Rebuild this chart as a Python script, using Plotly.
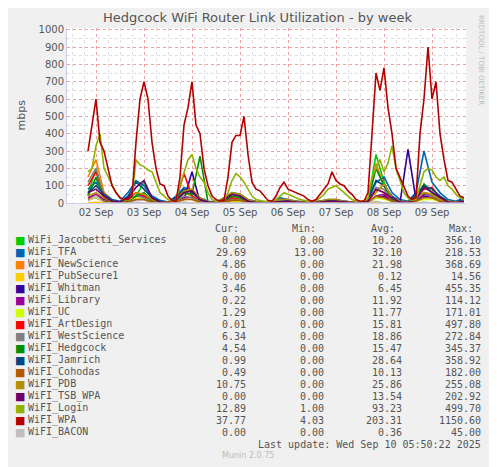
import pandas as pd
import plotly.graph_objects as go

# 2-hour samples from Sep 1 20:00
wpa = [300, 450, 600, 350, 300, 200, 100, 60, 30, 20, 20, 40, 350, 600, 700, 600, 350, 200, 110, 100,
       40, 15, 10, 150, 450, 550, 700, 450, 400, 200, 100, 40, 20, 10, 15, 150, 350, 390, 390, 500,
       280, 120, 80, 70, 40, 15, 10, 40, 90, 120, 80, 70, 60, 50, 40, 20, 10, 20, 50, 80,
       110, 180, 130, 110, 100, 70, 50, 20, 10, 10, 60, 400, 750, 650, 780, 550, 400, 200, 150, 100,
       40, 20, 30, 400, 600, 900, 600, 700, 400, 250, 130, 120, 80, 40, 30]
login = [180, 200, 330, 400, 200, 150, 100, 60, 30, 20, 15, 30, 250, 220, 210, 190, 180, 120, 60, 40,
         20, 10, 15, 100, 170, 250, 280, 200, 150, 120, 60, 20, 10, 10, 15, 60, 130, 170, 150, 120,
         80, 40, 20, 15, 10, 10, 10, 20, 40, 60, 50, 40, 30, 20, 15, 10, 10, 15, 30, 50,
         80, 90, 100, 80, 60, 40, 20, 10, 10, 10, 30, 150, 200, 250, 180, 230, 330, 200, 130, 60,
         30, 15, 20, 100, 180, 200, 190, 150, 130, 150, 100, 80, 50, 30, 20]

# 4-hour samples from Sep 1 20:00
tfa = [80, 120, 60, 20, 10, 60, 130, 100, 40, 15, 5, 40, 90, 70, 30, 10, 5, 30, 60, 50, 20, 10, 5, 10,
       30, 20, 10, 5, 5, 10, 20, 20, 10, 5, 5, 20, 120, 150, 60, 20, 10, 60, 300, 120, 60, 20, 10, 30]
jamrich = [60, 100, 50, 15, 5, 40, 120, 80, 30, 10, 5, 30, 80, 60, 20, 5, 5, 20, 50, 40, 15, 5, 5, 10,
           20, 15, 10, 5, 5, 10, 15, 15, 10, 5, 5, 20, 130, 100, 40, 10, 5, 50, 100, 80, 40, 10, 5, 20]
artdesign = [100, 180, 40, 10, 5, 20, 60, 40, 10, 5, 2, 20, 170, 40, 10, 5, 2, 10, 30, 20, 5, 2, 1, 2,
             5, 5, 2, 1, 1, 2, 5, 5, 2, 1, 1, 10, 80, 60, 20, 5, 2, 40, 80, 90, 30, 5, 2, 10]
newscience = [150, 250, 60, 10, 5, 20, 60, 40, 10, 5, 2, 20, 60, 40, 10, 5, 2, 10, 40, 30, 10, 5, 2, 5,
              10, 10, 5, 2, 2, 5, 10, 10, 5, 2, 2, 10, 230, 100, 30, 10, 5, 30, 60, 50, 20, 5, 2, 10]
jacobetti = [50, 200, 30, 5, 2, 10, 40, 120, 10, 2, 1, 10, 60, 40, 10, 2, 1, 10, 30, 20, 5, 1, 1, 2,
             10, 10, 5, 1, 1, 2, 5, 5, 2, 1, 1, 10, 280, 120, 20, 5, 2, 20, 100, 60, 20, 5, 2, 5]
hedgcock = [40, 150, 30, 5, 2, 10, 40, 60, 10, 2, 1, 10, 60, 50, 270, 5, 1, 10, 40, 30, 10, 2, 1, 5,
            10, 10, 5, 2, 2, 5, 10, 10, 5, 2, 2, 10, 200, 100, 20, 5, 2, 20, 110, 60, 20, 5, 2, 5]
whitman = [20, 30, 10, 2, 1, 5, 20, 20, 5, 1, 1, 5, 20, 180, 5, 1, 1, 5, 10, 10, 5, 1, 1, 2,
           5, 5, 2, 1, 1, 2, 5, 5, 2, 1, 1, 5, 30, 40, 10, 2, 310, 20, 40, 30, 10, 2, 1, 5]
tsb = [60, 80, 40, 10, 5, 30, 90, 130, 30, 5, 2, 20, 60, 70, 20, 5, 2, 20, 50, 40, 10, 2, 1, 5,
       10, 10, 5, 2, 2, 5, 10, 10, 5, 2, 2, 10, 80, 60, 30, 5, 2, 20, 90, 60, 30, 5, 2, 10]
pdb = [40, 60, 30, 10, 5, 20, 60, 50, 20, 5, 5, 20, 70, 80, 30, 5, 5, 30, 60, 50, 20, 5, 5, 10,
       20, 20, 10, 5, 5, 10, 20, 20, 10, 5, 5, 20, 60, 110, 30, 10, 5, 30, 60, 50, 20, 10, 5, 10]
westscience = [120, 200, 40, 5, 2, 10, 40, 30, 10, 2, 1, 10, 40, 30, 10, 2, 1, 5, 20, 20, 5, 1, 1, 2,
               5, 5, 2, 1, 1, 2, 5, 5, 2, 1, 1, 5, 90, 80, 20, 5, 2, 20, 60, 40, 10, 5, 2, 6]
library = [30, 50, 20, 5, 2, 10, 40, 40, 10, 2, 1, 10, 30, 30, 10, 2, 1, 5, 20, 20, 5, 1, 1, 2,
           5, 5, 2, 1, 1, 2, 5, 5, 2, 1, 1, 5, 40, 50, 10, 2, 1, 10, 50, 40, 10, 2, 1, 0]
cohodas = [20, 40, 10, 2, 1, 5, 20, 20, 5, 1, 1, 5, 20, 20, 5, 1, 1, 5, 15, 15, 5, 1, 1, 2,
           5, 5, 2, 1, 1, 2, 5, 5, 2, 1, 1, 5, 40, 30, 10, 2, 1, 10, 30, 30, 10, 2, 1, 0]
uc = [20, 30, 10, 2, 1, 5, 30, 20, 5, 1, 1, 5, 20, 20, 5, 1, 1, 5, 10, 10, 5, 1, 1, 2,
      5, 5, 2, 1, 1, 2, 5, 5, 2, 1, 1, 5, 30, 20, 10, 2, 1, 10, 20, 20, 10, 2, 1, 1]
pubsecure = [0, 5, 0, 0, 0, 0, 2, 0, 0, 0, 0, 0, 2, 0, 0, 0, 0, 0, 0, 0, 0, 0, 0, 0,
             0, 0, 0, 0, 0, 0, 0, 0, 0, 0, 0, 0, 5, 0, 0, 0, 0, 0, 2, 0, 0, 0, 0, 0]
bacon = [10, 40, 0, 0, 0, 0, 5, 0, 0, 0, 0, 0, 5, 0, 0, 0, 0, 0, 0, 0, 0, 0, 0, 0,
         0, 0, 0, 0, 0, 0, 0, 0, 0, 0, 0, 0, 10, 0, 0, 0, 0, 0, 5, 0, 0, 0, 0, 0]

names = ["WiFi_Jacobetti_Services", "WiFi_TFA", "WiFI_NewScience", "WiFI_PubSecure1", "WiFI_Whitman",
         "WiFi_Library", "WiFI_UC", "WiFI_ArtDesign", "WiFI_WestScience", "WiFI_Hedgcock", "WiFI_Jamrich",
         "WiFI_Cohodas", "WiFI_PDB", "WiFI_TSB_WPA", "WiFI_Login", "WiFI_WPA", "WiFI_BACON"]
colors = ["#00cc00", "#0066b3", "#ff8000", "#ffcc00", "#330099", "#990099", "#ccff00", "#ff0000", "#808080",
          "#008f00", "#00487d", "#b35a00", "#b38f00", "#6b006b", "#8fb300", "#b30000", "#bebebe"]
cur = ["0.00", "29.69", "4.86", "0.00", "3.46", "0.22", "1.29", "0.01", "6.34", "4.54", "0.99", "0.49",
       "10.75", "0.00", "12.89", "37.77", "0.00"]
mins = ["0.00", "13.00", "0.00", "0.00", "0.00", "0.00", "0.00", "0.00", "0.00", "0.00", "0.00", "0.00",
        "0.00", "0.00", "1.00", "4.03", "0.00"]
avgs = ["10.20", "32.10", "21.98", "0.12", "6.45", "11.92", "11.77", "15.81", "18.86", "15.47", "28.64",
        "10.13", "25.86", "13.54", "93.23", "203.31", "0.36"]
maxs = ["356.10", "218.53", "368.69", "14.56", "455.35", "114.12", "171.01", "497.80", "272.84", "345.37",
        "358.92", "182.00", "255.08", "202.92", "499.70", "1150.60", "45.00"]

series = [jacobetti, tfa, newscience, pubsecure, whitman, library, uc, artdesign, westscience, hedgcock,
          jamrich, cohodas, pdb, tsb, login, wpa, bacon]

fig = go.Figure()
for name, col, ys in zip(names, colors, series):
    step = "2h" if len(ys) > 60 else "4h"
    xs = pd.date_range("2025-09-01 20:00", periods=len(ys), freq=step)
    fig.add_scatter(x=xs, y=ys, mode="lines", name=name, line=dict(color=col, width=1.6), showlegend=False)

mono = dict(family="DejaVu Sans Mono", size=10, color="#555")
ann = []
for hx, h in [(213, "Cur:"), (290, "Min:"), (369, "Avg:"), (447, "Max:")]:
    ann.append(dict(x=hx, y=228, text=h, xanchor="left"))
for i in range(len(names)):
    yy = 240 + 12 * i
    ann.append(dict(x=13, y=yy, text="■", xanchor="left", font=dict(family="DejaVu Sans", size=11, color=colors[i])))
    ann.append(dict(x=26, y=yy, text=names[i], xanchor="left"))
    for xr, v in [(248, cur[i]), (326, mins[i]), (404, avgs[i]), (483, maxs[i])]:
        ann.append(dict(x=xr, y=yy, text=v, xanchor="right"))
ann.append(dict(x=483, y=444, text="Last update: Wed Sep 10 05:50:22 2025", xanchor="right"))
ann.append(dict(x=248, y=455, text="Munin 2.0.75", xanchor="center",
                font=dict(family="DejaVu Sans", size=8, color="#bbb")))
ann.append(dict(x=12, y=115, text="mbps", textangle=-90, font=dict(family="DejaVu Sans", size=11, color="#555")))
ann.append(dict(x=487, y=60, text="RRDTOOL / TOBI OETIKER", textangle=90,
                font=dict(family="DejaVu Sans", size=7, color="#bbb")))
ann.append(dict(x=257, y=18, text="Hedgcock WiFi Router Link Utilization - by week",
                font=dict(family="DejaVu Sans", size=13, color="#555")))
for a in ann:
    a.setdefault("font", mono)
    a.update(xref="paper", yref="paper", showarrow=False, yanchor="middle")
    a["x"] = (a["x"] - 67) / (466 - 67)
    a["y"] = (203 - a["y"]) / (203 - 28)

# page body adds ~8px offset, so shrink figure and margins accordingly
fig.update_layout(
    width=489, height=459, margin=dict(l=59, r=31, t=20, b=264),
    paper_bgcolor="#f0f0f0", plot_bgcolor="white", annotations=ann,
    font=dict(family="DejaVu Sans", size=10, color="#555"),
)
fig.update_xaxes(range=["2025-09-01 09:30", "2025-09-09 17:00"], dtick=86400000, tick0="2025-09-02",
                 tickformat="%d %b", ticks="", showgrid=True, griddash="dot", gridcolor="#f0a0a0",
                 minor=dict(dtick=21600000, showgrid=True, griddash="dot", gridcolor="#dddddd"),
                 showline=True, linecolor="#ccccee", zeroline=False)
fig.update_yaxes(range=[0, 1010], dtick=100, showgrid=True, griddash="dot", gridcolor="#f0a0a0",
                 minor=dict(dtick=50, showgrid=True, griddash="dot", gridcolor="#dddddd"),
                 showline=True, linecolor="#ccccee", zeroline=False, ticks="")
fig.write_html("out.html")
